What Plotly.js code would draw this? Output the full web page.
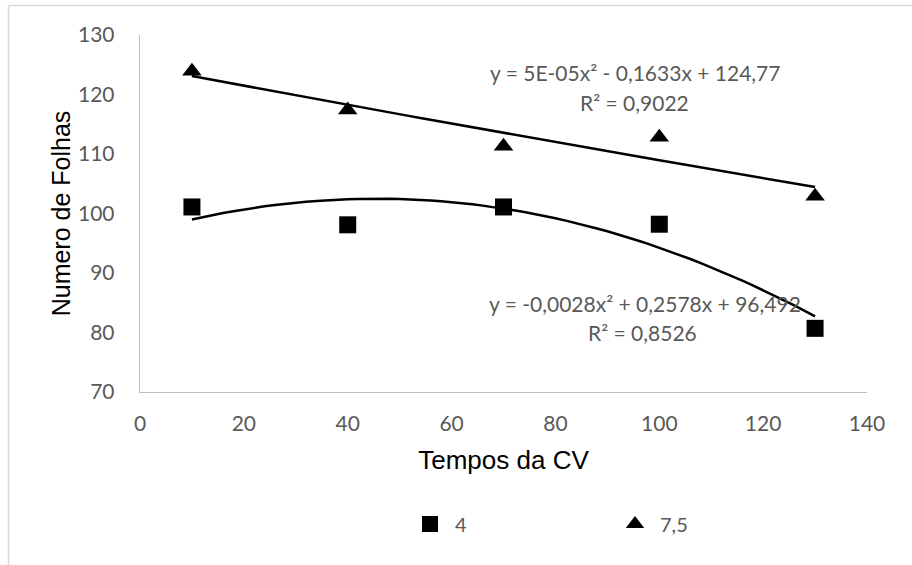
<!DOCTYPE html>
<html>
<head>
<meta charset="utf-8">
<script src="https://cdn.plot.ly/plotly-3.0.1.min.js"></script>
<style>
html,body{margin:0;padding:0;background:#fff;}
#chart{width:912px;height:565px;}
</style>
</head>
<body>
<div id="chart"></div>
<script>
// Data
var tempos = [10, 40, 70, 100, 130];
var folhas4 = [101.1, 98.1, 101.1, 98.2, 80.7];
var folhas75 = [123.9, 117.4, 111.3, 112.8, 102.9];
var seriesNames = ['4', '7,5'];
var eq4 = ['y = -0,0028x² + 0,2578x + 96,492', 'R² = 0,8526'];
var eq75 = ['y = 5E-05x² - 0,1633x + 124,77', 'R² = 0,9022'];
var xTicks = [0, 20, 40, 60, 80, 100, 120, 140];
var yTicks = [70, 80, 90, 100, 110, 120, 130];

// quadratic least-squares fit (like an Excel polynomial trendline)
function polyFit2(xs, ys) {
  var S = [0,0,0,0,0], T = [0,0,0];
  for (var i = 0; i < xs.length; i++) {
    var p = 1;
    for (var k = 0; k < 5; k++) { S[k] += p; if (k < 3) T[k] += p * ys[i]; p *= xs[i]; }
  }
  var A = [[S[0],S[1],S[2],T[0]],[S[1],S[2],S[3],T[1]],[S[2],S[3],S[4],T[2]]];
  for (var c = 0; c < 3; c++) {
    for (var r = c + 1; r < 3; r++) {
      var f = A[r][c] / A[c][c];
      for (var j = c; j < 4; j++) A[r][j] -= f * A[c][j];
    }
  }
  var b = [0,0,0];
  for (var r2 = 2; r2 >= 0; r2--) {
    var s = A[r2][3];
    for (var j2 = r2 + 1; j2 < 3; j2++) s -= A[r2][j2] * b[j2];
    b[r2] = s / A[r2][r2];
  }
  return b; // b0 + b1 x + b2 x^2
}
function curve(xs, ys) {
  var b = polyFit2(xs, ys);
  var cx = [], cy = [];
  var x0 = xs[0], x1 = xs[xs.length - 1];
  for (var i = 0; i <= 60; i++) {
    var x = x0 + (x1 - x0) * i / 60;
    cx.push(x); cy.push(b[0] + b[1] * x + b[2] * x * x);
  }
  return {x: cx, y: cy};
}
var c4 = curve(tempos, folhas4);
var c75 = curve(tempos, folhas75);

var traces = [
  {x: tempos, y: folhas4, name: seriesNames[0], mode: 'markers', type: 'scatter',
   marker: {symbol: 'square', size: 17, color: '#000'}},
  {x: tempos, y: folhas75, name: seriesNames[1], mode: 'markers', type: 'scatter',
   marker: {symbol: 'triangle-up', size: 17, color: '#000'}},
  {x: c4.x, y: c4.y, mode: 'lines', showlegend: false, hoverinfo: 'skip',
   line: {color: '#000', width: 2.5}},
  {x: c75.x, y: c75.y, mode: 'lines', showlegend: false, hoverinfo: 'skip',
   line: {color: '#000', width: 2.5}}
];

var sansFont = 'Lato, "Open Sans", sans-serif';
var eqFont = {family: sansFont, size: 21, color: '#595959'};
function ann(text, x, y) {
  return {text: text, xref: 'paper', yref: 'paper', x: x, y: y,
    xanchor: 'center', yanchor: 'middle', showarrow: false, font: eqFont};
}
// paper coords: plot area spans px 140..867 (x) and 35..392 (y)
function px(p) { return (p - 140) / 727; }
function py(p) { return (392 - p) / 357; }

var layout = {
  width: 912, height: 565,
  margin: {l: 140, r: 45, t: 35, b: 173},
  paper_bgcolor: '#fff', plot_bgcolor: '#fff',
  showlegend: true,
  legend: {orientation: 'h', x: px(405), y: py(524), xanchor: 'left', yanchor: 'middle',
    font: {family: sansFont, size: 20, color: '#595959'},
    itemwidth: 40, entrywidth: 150, entrywidthmode: 'pixels'},
  xaxis: {range: [0, 140], tickvals: xTicks, showgrid: false, zeroline: false,
    showline: true, linecolor: '#BFBFBF', linewidth: 1.3, ticks: '', ticklabelstandoff: 12,
    tickfont: {family: sansFont, size: 21, color: '#595959'},
    title: {text: 'Tempos da CV', font: {family: '"Liberation Sans", Arial, sans-serif', size: 26, color: '#000'}, standoff: 17}},
  yaxis: {range: [70, 130], tickvals: yTicks, showgrid: false, zeroline: false,
    showline: true, linecolor: '#BFBFBF', linewidth: 1.3, ticks: '', ticklabelstandoff: 20,
    tickfont: {family: sansFont, size: 21, color: '#595959'},
    title: {text: 'Numero de Folhas', font: {family: '"Liberation Sans", Arial, sans-serif', size: 25, color: '#000'}, standoff: 0}},
  annotations: [
    ann(eq75[0], px(635), py(73)),
    ann(eq75[1], px(634), py(102)),
    ann(eq4[0], px(645), py(303)),
    ann(eq4[1], px(642), py(332))
  ],
  shapes: [
    {type: 'line', xref: 'paper', yref: 'paper', x0: px(8.5), x1: px(912), y0: py(5.5), y1: py(5.5),
     line: {color: '#D9D9D9', width: 1.5}},
    {type: 'line', xref: 'paper', yref: 'paper', x0: px(8.5), x1: px(8.5), y0: py(5.5), y1: py(565),
     line: {color: '#D9D9D9', width: 1.5}}
  ]
};

Plotly.newPlot('chart', traces, layout, {staticPlot: true, displayModeBar: false});
</script>
</body>
</html>
